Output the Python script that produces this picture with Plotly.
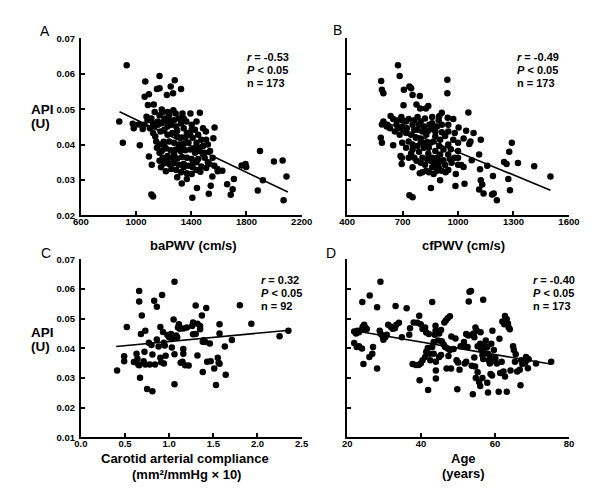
import plotly.graph_objects as go

# ---------------- data ----------------
# Panel A: baPWV (cm/s) vs API (U)
a_x = [932, 878, 904, 1027, 976, 983, 1018, 1058, 1048, 1067,
       1062, 1093, 1086, 1128, 1151, 1170, 1170, 1186, 1223, 1251,
       1268, 1280, 1326, 1093, 1114, 1111, 1123, 1331, 1408, 1441,
       1527, 1541, 1553, 1592, 1660, 1700, 1686, 1709, 1765, 1793,
       1798, 1898, 1882, 1919, 1999, 2062, 2090, 2069, 1569, 1560,
       1462, 1394, 1336, 1506, 1076, 1083, 1111, 1135, 1123, 1139,
       1158, 1170, 1193, 1205, 1223, 1240, 1256, 1275, 1291, 1310,
       1326, 1345, 1364, 1205, 1177, 1228, 1263, 1298, 1333, 1368,
       1403, 1427, 1450, 1473, 1410, 1380, 1345, 1310, 1275, 1240,
       1200, 1170, 1151, 1186, 1216, 1251, 1287, 1322, 1357, 1392,
       1427, 1457, 1485, 1520, 1497, 1532, 1508, 1473, 1438, 1403,
       1368, 1333, 1298, 1263, 1228, 1193, 1170, 1205, 1240, 1275,
       1310, 1345, 1380, 1410, 1438, 1466, 1326, 1291, 1256, 1216,
       1181, 1368, 1403, 1345, 1158, 1186, 1228, 1298, 1345, 1403,
       1438, 1485, 1508, 1536, 1567, 1590, 1625, 1228, 1270, 1123,
       1100, 1146, 1170, 1438, 1485, 1555, 1298, 1368, 1415, 1450,
       1520, 1228, 1275, 1322, 1357, 1392, 1427, 1462, 1497, 1205,
       1240, 1287, 1135]
a_y = [0.0624, 0.0465, 0.0405, 0.0398, 0.0459, 0.0446, 0.0457, 0.0456, 0.0444, 0.0578,
       0.0535, 0.0542, 0.0512, 0.0513, 0.0557, 0.0559, 0.0594, 0.0499, 0.0540, 0.0564,
       0.0545, 0.0582, 0.0557, 0.0366, 0.0343, 0.0259, 0.0253, 0.0290, 0.0250, 0.0277,
       0.0261, 0.0284, 0.0310, 0.0325, 0.0288, 0.0274, 0.0258, 0.0303, 0.0341, 0.0345,
       0.0337, 0.0382, 0.0270, 0.0299, 0.0352, 0.0355, 0.0310, 0.0243, 0.0448, 0.0418,
       0.0490, 0.0488, 0.0488, 0.0437, 0.0479, 0.0469, 0.0474, 0.0451, 0.0433, 0.0423,
       0.0465, 0.0483, 0.0492, 0.0474, 0.0465, 0.0483, 0.0456, 0.0469, 0.0451, 0.0474,
       0.0460, 0.0446, 0.0465, 0.0442, 0.0437, 0.0428, 0.0433, 0.0423, 0.0420, 0.0433,
       0.0456, 0.0442, 0.0428, 0.0414, 0.0419, 0.0405, 0.0402, 0.0400, 0.0405, 0.0409,
       0.0408, 0.0400, 0.0391, 0.0382, 0.0389, 0.0384, 0.0386, 0.0382, 0.0384, 0.0386,
       0.0391, 0.0382, 0.0396, 0.0400, 0.0363, 0.0345, 0.0334, 0.0338, 0.0350, 0.0359,
       0.0363, 0.0365, 0.0361, 0.0363, 0.0368, 0.0363, 0.0354, 0.0347, 0.0345, 0.0347,
       0.0343, 0.0345, 0.0340, 0.0336, 0.0328, 0.0323, 0.0322, 0.0328, 0.0331, 0.0325,
       0.0336, 0.0319, 0.0317, 0.0336, 0.0456, 0.0460, 0.0451, 0.0439, 0.0474, 0.0442,
       0.0465, 0.0446, 0.0414, 0.0382, 0.0340, 0.0331, 0.0326, 0.0492, 0.0497, 0.0460,
       0.0446, 0.0409, 0.0377, 0.0405, 0.0373, 0.0363, 0.0308, 0.0303, 0.0350, 0.0359,
       0.0350, 0.0359, 0.0373, 0.0391, 0.0419, 0.0428, 0.0377, 0.0391, 0.0377, 0.0396,
       0.0469, 0.0488, 0.0492]
a_fit_x = [880, 2100]
a_fit_y = [0.0493, 0.0266]

# Panel B: cfPWV (cm/s) vs API (U)
b_x = [675, 684, 584, 588, 596, 737, 746, 754, 707, 793,
       942, 942, 705, 775, 795, 826, 839, 1056, 912, 898,
       944, 974, 596, 588, 617, 635, 649, 670, 693, 719,
       698, 675, 702, 733, 754, 781, 798, 816, 845, 865,
       886, 912, 895, 860, 1003, 1044, 1084, 1030, 1061, 1067,
       1123, 588, 582, 649, 698, 754, 781, 798, 828, 877,
       930, 947, 974, 1000, 961, 982, 1000, 1017, 1030, 1074,
       1114, 1119, 1158, 1189, 1123, 1131, 1114, 1138, 1184, 1193,
       1210, 1249, 1263, 1277, 1291, 1324, 1272, 1281, 1412, 1500,
       947, 988, 903, 853, 986, 1035, 737, 754, 689, 696,
       695, 746, 763, 789, 798, 816, 839, 851, 877, 793,
       807, 828, 860, 868, 886, 903, 921, 930, 895, 912,
       933, 877, 898, 921, 947, 965, 886, 868, 842, 821,
       798, 775, 754, 733, 719, 733, 772, 746, 719, 684,
       658, 631, 614, 781, 807, 839, 868, 903, 912, 947,
       982, 1000, 851, 824, 789, 763, 698, 667, 723, 860,
       877, 947, 912, 956, 833, 860, 807, 754, 895, 1000,
       842, 763, 821]
b_y = [0.0624, 0.0594, 0.0580, 0.0555, 0.0545, 0.0564, 0.0559, 0.0540, 0.0555, 0.0537,
       0.0583, 0.0545, 0.0511, 0.0513, 0.0502, 0.0502, 0.0509, 0.0491, 0.0490, 0.0480,
       0.0476, 0.0472, 0.0465, 0.0457, 0.0456, 0.0481, 0.0472, 0.0468, 0.0478, 0.0465,
       0.0451, 0.0446, 0.0442, 0.0472, 0.0456, 0.0478, 0.0465, 0.0451, 0.0456, 0.0444,
       0.0451, 0.0456, 0.0469, 0.0478, 0.0448, 0.0439, 0.0433, 0.0417, 0.0402, 0.0409,
       0.0414, 0.0405, 0.0419, 0.0398, 0.0405, 0.0400, 0.0396, 0.0417, 0.0428, 0.0423,
       0.0424, 0.0400, 0.0414, 0.0382, 0.0387, 0.0363, 0.0343, 0.0342, 0.0337, 0.0356,
       0.0372, 0.0330, 0.0340, 0.0311, 0.0299, 0.0287, 0.0273, 0.0262, 0.0259, 0.0262,
       0.0243, 0.0351, 0.0345, 0.0380, 0.0405, 0.0348, 0.0303, 0.0271, 0.0339, 0.0310,
       0.0328, 0.0317, 0.0299, 0.0277, 0.0283, 0.0289, 0.0257, 0.0251, 0.0368, 0.0363,
       0.0345, 0.0375, 0.0363, 0.0380, 0.0405, 0.0391, 0.0374, 0.0354, 0.0343, 0.0319,
       0.0322, 0.0326, 0.0336, 0.0349, 0.0363, 0.0372, 0.0356, 0.0342, 0.0336, 0.0326,
       0.0322, 0.0382, 0.0396, 0.0386, 0.0372, 0.0349, 0.0326, 0.0317, 0.0322, 0.0343,
       0.0349, 0.0354, 0.0336, 0.0363, 0.0391, 0.0409, 0.0419, 0.0428, 0.0433, 0.0428,
       0.0437, 0.0446, 0.0451, 0.0442, 0.0437, 0.0439, 0.0409, 0.0414, 0.0435, 0.0437,
       0.0433, 0.0405, 0.0405, 0.0405, 0.0456, 0.0469, 0.0469, 0.0456, 0.0446, 0.0460,
       0.0437, 0.0456, 0.0354, 0.0359, 0.0359, 0.0363, 0.0363, 0.0386, 0.0349, 0.0363,
       0.0391, 0.0442, 0.0474]
b_fit_x = [590, 1500]
b_fit_y = [0.0467, 0.0271]

# Panel C: carotid arterial compliance vs API (U)
c_x = [0.41, 0.49, 0.49, 0.52, 0.60, 0.63, 0.64, 0.65, 0.66, 0.66,
       0.66, 0.67, 0.68, 0.69, 0.72, 0.73, 0.73, 0.71, 0.75, 0.77,
       0.78, 0.81, 0.81, 0.83, 0.84, 0.86, 0.86, 0.88, 0.90, 0.90,
       0.91, 0.92, 0.93, 0.94, 0.94, 0.95, 0.98, 1.00, 1.02, 1.03,
       1.03, 1.05, 1.06, 1.08, 1.10, 1.11, 1.12, 1.13, 1.15, 1.16,
       1.16, 1.18, 1.06, 1.06, 1.16, 1.20, 1.22, 1.27, 1.27, 1.30,
       1.30, 1.32, 1.32, 1.35, 1.35, 1.37, 1.38, 1.38, 1.39, 1.42,
       1.43, 1.46, 1.47, 1.51, 1.53, 1.55, 1.56, 1.57, 1.57, 1.57,
       1.64, 1.63, 1.71, 1.80, 1.93, 2.25, 2.35, 1.09, 0.96, 1.41,
       0.80, 1.26]
c_y = [0.0325, 0.0373, 0.0356, 0.0472, 0.0354, 0.0382, 0.0365, 0.0345, 0.0593, 0.0558,
       0.0343, 0.0301, 0.0448, 0.0511, 0.0388, 0.0459, 0.0345, 0.0356, 0.0263, 0.0419,
       0.0345, 0.0255, 0.0379, 0.0560, 0.0345, 0.0430, 0.0540, 0.0406, 0.0472, 0.0368,
       0.0353, 0.0580, 0.0455, 0.0419, 0.0349, 0.0409, 0.0445, 0.0437, 0.0448, 0.0431,
       0.0403, 0.0497, 0.0380, 0.0443, 0.0470, 0.0481, 0.0466, 0.0351, 0.0355, 0.0382,
       0.0398, 0.0343, 0.0624, 0.0279, 0.0467, 0.0470, 0.0342, 0.0447, 0.0487, 0.0448,
       0.0544, 0.0483, 0.0376, 0.0475, 0.0464, 0.0511, 0.0320, 0.0422, 0.0427, 0.0536,
       0.0355, 0.0416, 0.0356, 0.0332, 0.0276, 0.0368, 0.0351, 0.0450, 0.0348, 0.0481,
       0.0311, 0.0406, 0.0428, 0.0545, 0.0483, 0.0441, 0.0459, 0.0437, 0.0375, 0.0421,
       0.0411, 0.0475]
c_fit_x = [0.40, 2.36]
c_fit_y = [0.0406, 0.0461]

# Panel D: age (years) vs API (U)
d_x = [29.0, 26.1, 24.1, 28.1, 33.1, 36.1, 43.0,
       21.9, 22.4, 22.8, 23.2, 23.9, 24.2, 24.6, 24.9, 25.3, 21.9,
       22.6, 23.2, 24.0, 24.4, 26.0, 26.8, 27.0, 28.1, 28.8, 29.1,
       29.6, 29.8, 30.3, 30.7, 31.1, 31.8, 32.3, 32.9, 33.3, 34.0, 34.8,
       36.8, 37.0, 38.0, 39.0, 39.5, 39.9, 40.4, 41.1, 41.4, 42.1,
       37.7, 38.6, 39.3, 39.9, 39.6, 41.9,
       40.4, 41.1, 41.4, 41.8, 42.3, 43.0, 43.4, 43.7, 43.9,
       44.6, 44.9, 45.4, 43.9, 45.6, 46.1, 46.3, 46.7, 47.2, 47.8,
       44.9, 45.4, 44.0, 44.0, 44.0, 46.9, 47.2, 47.8, 48.2, 48.8,
       49.3, 49.6, 50.0, 49.8, 48.1, 47.4, 46.5, 42.5, 43.4,
       50.7, 51.3, 51.6, 52.2, 52.6, 52.8, 53.8, 54.2, 54.4, 54.7,
       55.1, 55.3, 56.0, 56.1, 56.3, 56.6, 56.8, 57.0, 57.2, 57.5,
       57.9, 58.1, 58.3, 58.6, 58.8, 59.0, 59.3, 59.7, 60.1, 53.1,
       53.5, 52.9, 56.8, 51.8, 52.2, 50.4, 53.7, 54.4, 54.6, 54.8,
       55.3, 55.7, 56.0, 54.0, 56.6, 57.9, 58.1, 58.8, 59.2, 59.9,
       60.5, 61.0, 61.4, 61.8, 62.0, 62.5, 62.7, 63.2, 63.5, 63.7,
       64.0, 61.2, 62.3, 62.7, 63.2, 64.2, 64.9, 65.1, 65.4, 65.6,
       66.0, 66.7, 66.9, 67.1, 67.4, 68.2, 68.4, 68.9, 69.1, 71.1,
       75.2]
d_y = [0.0624, 0.0578, 0.0556, 0.0538, 0.0543, 0.0535, 0.0556,
       0.0457, 0.0450, 0.0459, 0.0454, 0.0462, 0.0473, 0.0479, 0.0470, 0.0465, 0.0418,
       0.0404, 0.0407, 0.0399, 0.0347, 0.0371, 0.0382, 0.0404, 0.0332, 0.0459, 0.0448,
       0.0440, 0.0429, 0.0437, 0.0446, 0.0479, 0.0473, 0.0466, 0.0468, 0.0479, 0.0486, 0.0437,
       0.0446, 0.0468, 0.0487, 0.0486, 0.0510, 0.0481, 0.0465, 0.0470, 0.0453, 0.0448,
       0.0347, 0.0344, 0.0344, 0.0349, 0.0292, 0.0259,
       0.0360, 0.0371, 0.0388, 0.0401, 0.0382, 0.0404, 0.0421, 0.0446, 0.0459,
       0.0426, 0.0450, 0.0462, 0.0476, 0.0424, 0.0413, 0.0487, 0.0494, 0.0501, 0.0508,
       0.0371, 0.0377, 0.0355, 0.0325, 0.0298, 0.0332, 0.0399, 0.0394, 0.0440, 0.0398,
       0.0433, 0.0360, 0.0352, 0.0262, 0.0332, 0.0374, 0.0404, 0.0360, 0.0382,
       0.0407, 0.0407, 0.0421, 0.0448, 0.0404, 0.0443, 0.0446, 0.0450, 0.0437, 0.0470,
       0.0459, 0.0407, 0.0415, 0.0454, 0.0396, 0.0377, 0.0364, 0.0394, 0.0410, 0.0426,
       0.0404, 0.0382, 0.0360, 0.0349, 0.0371, 0.0415, 0.0459, 0.0394, 0.0366, 0.0591,
       0.0593, 0.0558, 0.0564, 0.0349, 0.0355, 0.0328, 0.0341, 0.0369, 0.0339, 0.0300,
       0.0319, 0.0286, 0.0273, 0.0245, 0.0300, 0.0284, 0.0251, 0.0313, 0.0308, 0.0358,
       0.0349, 0.0253, 0.0317, 0.0355, 0.0490, 0.0481, 0.0509, 0.0498, 0.0484, 0.0470,
       0.0464, 0.0432, 0.0322, 0.0305, 0.0253, 0.0325, 0.0407, 0.0394, 0.0355, 0.0380,
       0.0322, 0.0328, 0.0275, 0.0360, 0.0347, 0.0352, 0.0371, 0.0333, 0.0363, 0.0349,
       0.0355]
d_fit_x = [22, 75]
d_fit_y = [0.0459, 0.0347]

# tick labels
a_xticks = [600, 1000, 1400, 1800, 2200]
b_xticks = [400, 700, 1000, 1300, 1600]
c_xticks = [0.0, 0.5, 1.0, 1.5, 2.0, 2.5]
d_xticks = [20, 40, 60, 80]
top_yticks = [0.02, 0.03, 0.04, 0.05, 0.06, 0.07]
bot_yticks = [0.01, 0.02, 0.03, 0.04, 0.05, 0.06, 0.07]

stats = {
    "A": ["<i>r</i> = -0.53", "<i>P</i> &lt; 0.05", "n = 173"],
    "B": ["<i>r</i> = -0.49", "<i>P</i> &lt; 0.05", "n = 173"],
    "C": ["<i>r</i> = 0.32", "<i>P</i> &lt; 0.05", "n = 92"],
    "D": ["<i>r</i> = -0.40", "<i>P</i> &lt; 0.05", "n = 173"],
}

# ---------------- figure ----------------
FONT = "Liberation Sans, Arial, sans-serif"
W, H = 600, 488

def px(x):
    return x / W

def py(y):
    return 1 - y / H

fig = go.Figure()

panels = [
    (a_x, a_y, a_fit_x, a_fit_y, "x", "y"),
    (b_x, b_y, b_fit_x, b_fit_y, "x2", "y2"),
    (c_x, c_y, c_fit_x, c_fit_y, "x3", "y3"),
    (d_x, d_y, d_fit_x, d_fit_y, "x4", "y4"),
]
for xs, ys, fx, fy, xa, ya in panels:
    fig.add_trace(go.Scatter(x=xs, y=ys, mode="markers", xaxis=xa, yaxis=ya,
                             marker=dict(color="black", size=6.5, line=dict(width=0)),
                             showlegend=False, hoverinfo="skip"))
    fig.add_trace(go.Scatter(x=fx, y=fy, mode="lines", xaxis=xa, yaxis=ya,
                             line=dict(color="black", width=1.6),
                             showlegend=False, hoverinfo="skip"))

left_dom = [px(67), px(295)]
right_dom = [px(342), px(571)]
top_dom = [py(206), py(25)]
bot_dom = [py(433), py(251)]

tickfont = dict(family=FONT, size=9.5, color="black", weight="bold")

def xaxis(dom, anchor, rng, ticks, labels):
    return dict(domain=dom, anchor=anchor, range=rng, tickmode="array",
                tickvals=ticks, ticktext=labels, showline=True, linecolor="black",
                linewidth=2, ticks="inside", ticklen=4, tickwidth=1.5, tickcolor="black",
                showgrid=False, zeroline=False, tickfont=tickfont,
                ticklabelstandoff=-4, fixedrange=True)

def yaxis(dom, anchor, rng, ticks, show):
    return dict(domain=dom, anchor=anchor, range=rng, tickmode="array",
                tickvals=ticks, ticktext=["%.2f" % t for t in ticks],
                showticklabels=show, showline=True, linecolor="black",
                linewidth=2, ticks="inside", ticklen=4, tickwidth=1.5, tickcolor="black",
                showgrid=False, zeroline=False, tickfont=tickfont,
                ticklabelstandoff=2, fixedrange=True)

fig.update_layout(
    width=W, height=H,
    margin=dict(l=0, r=0, t=0, b=0),
    paper_bgcolor="white", plot_bgcolor="white",
    font=dict(family=FONT, color="black"),
    xaxis=xaxis(left_dom, "y", [600, 2200], a_xticks, [str(v) for v in a_xticks]),
    xaxis2=xaxis(right_dom, "y2", [400, 1600], b_xticks, [str(v) for v in b_xticks]),
    xaxis3=xaxis(left_dom, "y3", [0, 2.5], c_xticks, ["%.1f" % v for v in c_xticks]),
    xaxis4=xaxis(right_dom, "y4", [20, 80], d_xticks, [str(v) for v in d_xticks]),
    yaxis=yaxis(top_dom, "x", [0.02, 0.07], top_yticks, True),
    yaxis2=yaxis(top_dom, "x2", [0.02, 0.07], top_yticks, False),
    yaxis3=yaxis(bot_dom, "x3", [0.01, 0.07], bot_yticks, True),
    yaxis4=yaxis(bot_dom, "x4", [0.01, 0.07], bot_yticks, False),
)

ann = []

def add_text(text, x, y, size, bold=True, xanchor="center"):
    ann.append(dict(text=text, x=px(x), y=py(y), xref="paper", yref="paper",
                    xanchor=xanchor, yanchor="middle", showarrow=False,
                    font=dict(family=FONT, size=size, color="black",
                              weight="bold" if bold else "normal")))

# panel letters
add_text("A", 30, 17, 14, bold=False)
add_text("B", 332, 16, 14, bold=False)
add_text("C", 31, 244, 14, bold=False)
add_text("D", 325, 244, 14, bold=False)

# y titles
for ytop in (98, 326):
    add_text("API", 13, ytop, 13.5, xanchor="left")
    add_text("(U)", 13, ytop + 14, 13.5, xanchor="left")

# x titles
add_text("baPWV (cm/s)", 183, 237, 13)
add_text("cfPWV (cm/s)", 462, 237, 13)
add_text("Carotid arterial compliance", 175, 455, 13)
add_text("(mm\u00b2/mmHg \u00d7 10)", 176, 471, 13)
add_text("Age", 462, 455, 13)
add_text("(years)", 462, 470, 13)

# stats
stat_pos = {"A": (236, 44), "B": (515, 44), "C": (251, 272), "D": (532, 272)}
for key, lines in stats.items():
    sx, sy = stat_pos[key]
    for i, line in enumerate(lines):
        add_text(line, sx, sy + 13.5 * i, 11, xanchor="left")

fig.update_layout(annotations=ann)
fig.write_html("out.html")
